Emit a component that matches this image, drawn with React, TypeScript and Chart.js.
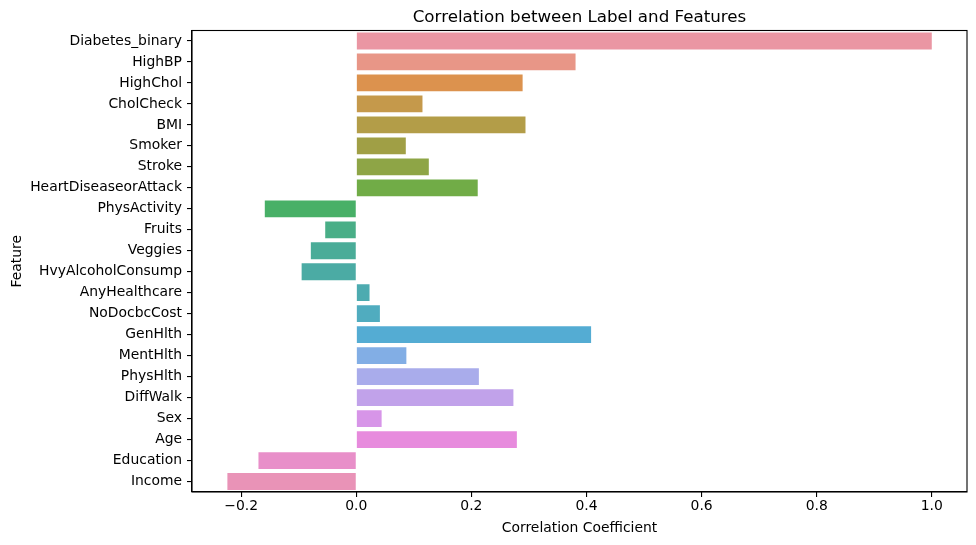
import React, { useEffect, useRef } from "react";
import { Chart, registerables } from "chart.js";

Chart.register(...registerables);

const features = [
  "Diabetes_binary", "HighBP", "HighChol", "CholCheck", "BMI", "Smoker", "Stroke",
  "HeartDiseaseorAttack", "PhysActivity", "Fruits", "Veggies", "HvyAlcoholConsump",
  "AnyHealthcare", "NoDocbcCost", "GenHlth", "MentHlth", "PhysHlth", "DiffWalk",
  "Sex", "Age", "Education", "Income",
];
const correlations = [
  1.0, 0.381, 0.289, 0.115, 0.294, 0.086, 0.126,
  0.211, -0.159, -0.054, -0.079, -0.095,
  0.023, 0.041, 0.408, 0.087, 0.213, 0.273,
  0.044, 0.279, -0.170, -0.224,
];
const xTicks = [-0.2, 0.0, 0.2, 0.4, 0.6, 0.8, 1.0];
const TITLE = "Correlation between Label and Features";
const X_TITLE = "Correlation Coefficient";
const Y_TITLE = "Feature";

// ---- seaborn-style husl palette (l=.7) desaturated by .75 ----
const M = [
  [3.2406, -1.5372, -0.4986],
  [-0.9689, 1.8758, 0.0415],
  [0.0557, -0.204, 1.057],
];
const refU = 0.19784, refV = 0.46834, labE = 0.008856, labK = 903.3;
function maxChroma(L: number, H: number) {
  const hr = (H / 360) * 2 * Math.PI;
  const sinH = Math.sin(hr), cosH = Math.cos(hr);
  const sub1 = Math.pow(L + 16, 3) / 1560896;
  const sub2 = sub1 > labE ? sub1 : L / labK;
  let result = Infinity;
  for (const [m1, m2, m3] of M) {
    const top = (0.99915 * m1 + 1.05122 * m2 + 1.1446 * m3) * sub2;
    const rb = 0.8633 * m3 - 0.17266 * m2;
    const lb = 0.12949 * m3 - 0.38848 * m1;
    const bottom = (rb * sinH + lb * cosH) * sub2;
    for (const t of [0, 1]) {
      const C = (L * (top - 1.05122 * t)) / (bottom + 0.17266 * sinH * t);
      if (C > 0 && C < result) result = C;
    }
  }
  return result;
}
function fromLinear(c: number) {
  return c <= 0.0031308 ? 12.92 * c : 1.055 * Math.pow(c, 1 / 2.4) - 0.055;
}
function huslToRgb(H: number, S: number, L: number): number[] {
  const C = (maxChroma(L, H) / 100) * S;
  const hr = (H / 360) * 2 * Math.PI;
  const U = Math.cos(hr) * C, V = Math.sin(hr) * C;
  const t = (L + 16) / 116;
  const varY = Math.pow(t, 3) > labE ? Math.pow(t, 3) : (116 * t - 16) / labK;
  const varU = U / (13 * L) + refU;
  const varV = V / (13 * L) + refV;
  const Y = varY;
  const X = 0 - (9 * Y * varU) / ((varU - 4) * varV - varU * varV);
  const Z = (9 * Y - 15 * varV * Y - varV * X) / (3 * varV);
  return M.map((r) => Math.min(1, Math.max(0, fromLinear(r[0] * X + r[1] * Y + r[2] * Z))));
}
function desat(rgb: number[], p: number) {
  const [r, g, b] = rgb;
  const mx = Math.max(r, g, b), mn = Math.min(r, g, b);
  const l = (mx + mn) / 2;
  if (mx === mn) return rgb;
  const d = mx - mn;
  let s = l <= 0.5 ? d / (mx + mn) : d / (2 - mx - mn);
  let h: number;
  if (mx === r) h = ((g - b) / d) % 6;
  else if (mx === g) h = (b - r) / d + 2;
  else h = (r - g) / d + 4;
  h = (h / 6 + 1) % 1;
  s *= p;
  const m2 = l <= 0.5 ? l * (1 + s) : l + s - l * s;
  const m1 = 2 * l - m2;
  const v = (hh: number) => {
    hh = ((hh % 1) + 1) % 1;
    if (hh < 1 / 6) return m1 + (m2 - m1) * hh * 6;
    if (hh < 0.5) return m2;
    if (hh < 2 / 3) return m1 + (m2 - m1) * (2 / 3 - hh) * 6;
    return m1;
  };
  return [v(h + 1 / 3), v(h), v(h - 1 / 3)];
}
function palette(n: number) {
  const out: string[] = [];
  for (let i = 0; i < n; i++) {
    const h = (((i / n) + 0.01) % 1) * 359;
    const rgb = desat(huslToRgb(h, 0.9 * 99, 0.7 * 99), 0.75);
    out.push(`rgb(${rgb.map((c) => Math.round(c * 255)).join(",")})`);
  }
  return out;
}

const FONT = "'DejaVu Sans', sans-serif";

const framePlugin = {
  id: "frame",
  afterDraw(chart: any) {
    const { ctx, chartArea: a } = chart;
    ctx.save();
    ctx.strokeStyle = "#000";
    ctx.lineWidth = 1.1;
    ctx.strokeRect(a.left, a.top, a.right - a.left, a.bottom - a.top);
    ctx.fillStyle = "#000";
    ctx.textAlign = "center";
    ctx.textBaseline = "alphabetic";
    ctx.font = `16.7px ${FONT}`;
    ctx.fillText(TITLE, (a.left + a.right) / 2, a.top - 8.3);
    ctx.restore();
  },
};

export default function App() {
  const ref = useRef<HTMLCanvasElement>(null);
  useEffect(() => {
    document.body.style.margin = "0";
    const colors = palette(features.length);
    const chart = new Chart(ref.current!, {
      type: "bar",
      data: {
        labels: features,
        datasets: [
          {
            data: correlations,
            backgroundColor: colors,
            borderWidth: 0,
            categoryPercentage: 0.8,
            barPercentage: 1.0,
          },
        ],
      },
      plugins: [framePlugin],
      options: {
        indexAxis: "y",
        animation: false,
        responsive: false,
        maintainAspectRatio: false,
        layout: { padding: { left: 0, top: 30.5, right: 9, bottom: 0 } },
        plugins: { legend: { display: false }, tooltip: { enabled: false }, title: { display: false } },
        scales: {
          x: {
            type: "linear",
            min: -0.2855,
            max: 1.0612,
            afterBuildTicks: (s: any) => {
              s.ticks = xTicks.map((v) => ({ value: v }));
            },
            afterFit: (s: any) => {
              s.height = 53;
            },
            grid: { display: true, drawOnChartArea: false, drawTicks: true, tickLength: 5, color: "#000", lineWidth: 1.1 },
            border: { display: true, color: "#000", width: 1.1 },
            ticks: {
              color: "#000",
              padding: 1,
              font: { family: FONT, size: 13.9 },
              maxRotation: 0,
              autoSkip: false,
              callback: (v: any) => {
                const n = Number(v);
                const s = Math.abs(n).toFixed(1);
                return n < -1e-9 ? "\u2212" + s : s;
              },
            },
            title: { display: true, text: X_TITLE, color: "#000", font: { family: FONT, size: 13.9 }, padding: { top: 2, bottom: 8.5 } },
          },
          y: {
            type: "category",
            offset: true,
            afterFit: (s: any) => {
              s.width = 192;
            },
            grid: { display: true, offset: false, drawOnChartArea: false, drawTicks: true, tickLength: 5, color: "#000", lineWidth: 1.1 },
            border: { display: true, color: "#000", width: 1.1 },
            ticks: { color: "#000", padding: 5, font: { family: FONT, size: 13.9 }, autoSkip: false },
            title: { display: true, text: Y_TITLE, color: "#000", font: { family: FONT, size: 13.9 }, padding: { top: 9, bottom: 0 } },
          },
        },
      } as any,
    });
    return () => chart.destroy();
  }, []);
  return (
    <div style={{ position: "absolute", left: 0, top: 0, width: 976, height: 545 }}>
      <canvas ref={ref} width={976} height={545} style={{ width: 976, height: 545, display: "block" }} />
    </div>
  );
}
